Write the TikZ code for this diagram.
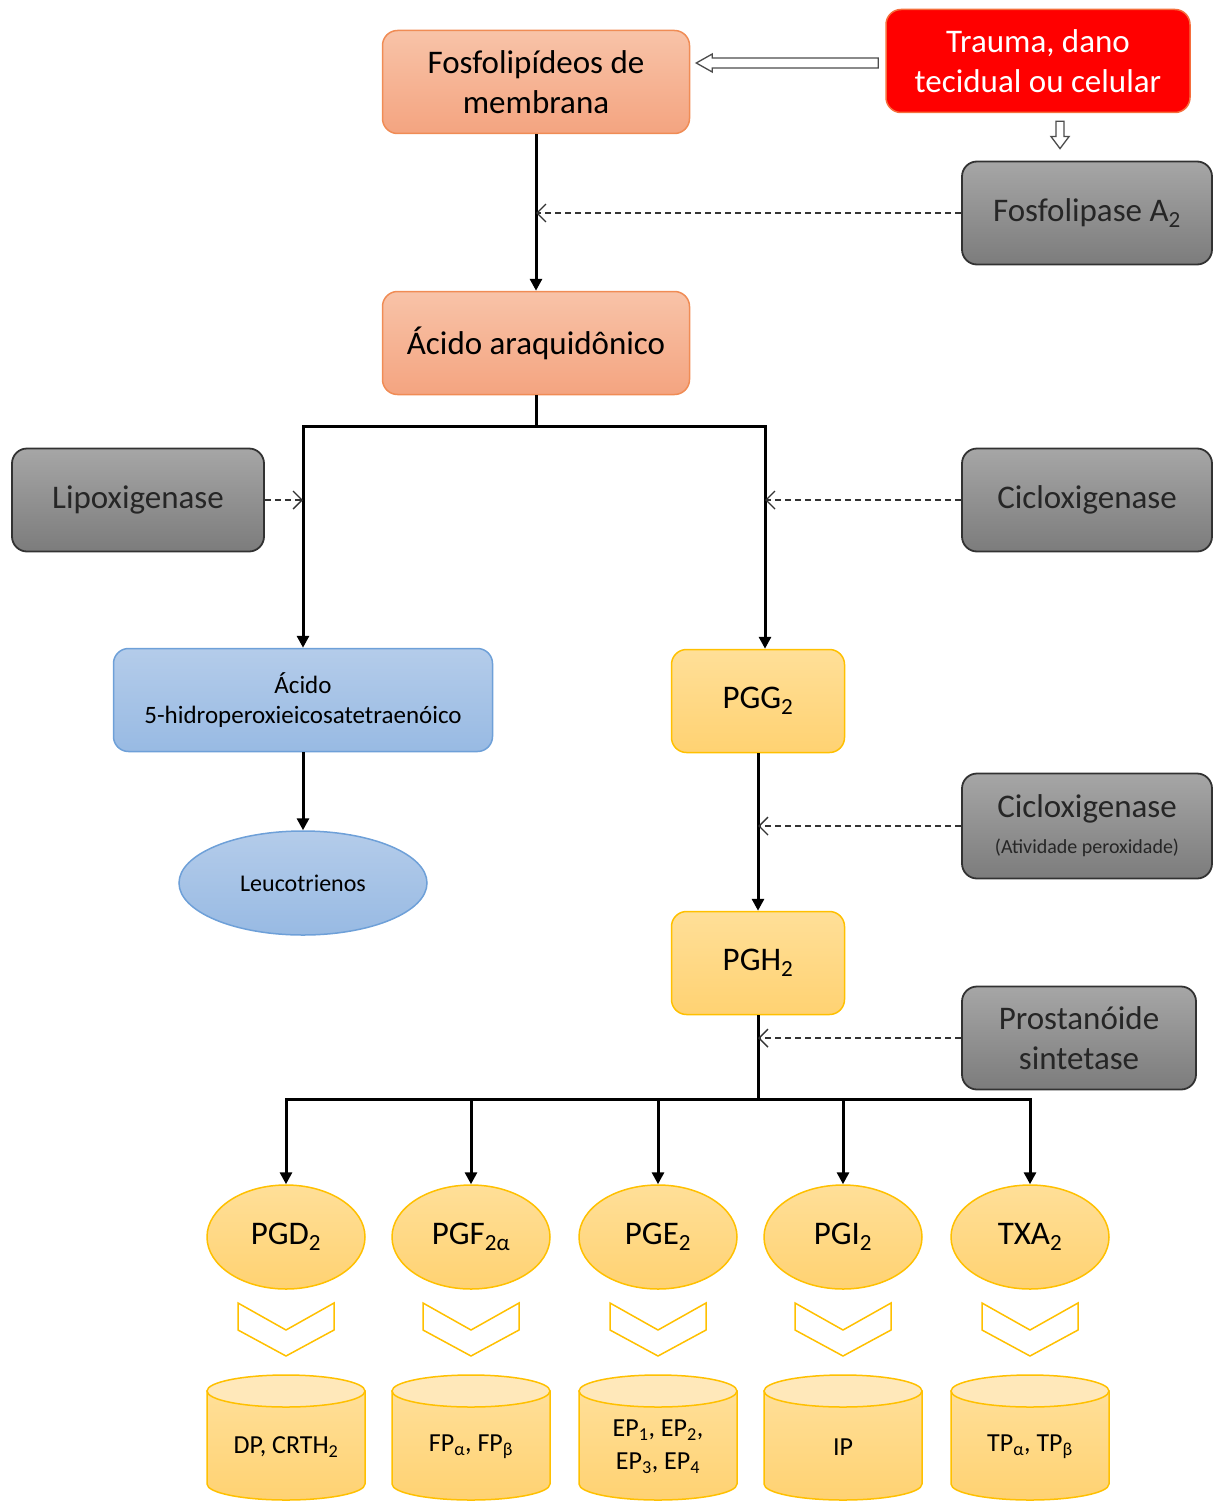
\documentclass[tikz,border=0pt]{standalone}
\usepackage{fontspec}
\setmainfont{Carlito}
\usetikzlibrary{arrows.meta,shapes.geometric,calc}

\definecolor{laranjaTopo}{RGB}{248,195,168}
\definecolor{laranjaBase}{RGB}{244,164,128}
\definecolor{laranjaBorda}{RGB}{240,140,85}
\definecolor{cinzaTopo}{RGB}{166,166,166}
\definecolor{cinzaBase}{RGB}{124,124,124}
\definecolor{cinzaBorda}{RGB}{50,50,50}
\definecolor{azulTopo}{RGB}{180,204,234}
\definecolor{azulBase}{RGB}{152,186,227}
\definecolor{azulBorda}{RGB}{110,160,216}
\definecolor{amareloTopo}{RGB}{255,223,152}
\definecolor{amareloBase}{RGB}{255,210,114}
\definecolor{amareloBorda}{RGB}{255,192,0}
\definecolor{amareloClaro}{RGB}{255,232,186}
\definecolor{vermelhoVivo}{RGB}{255,0,0}
\definecolor{vermelhoBorda}{RGB}{245,110,60}

\begin{document}
\begin{tikzpicture}[x=1pt,y=-1pt,
    caixa/.style={rounded corners=15, minimum width=307, minimum height=103,
      align=center, inner sep=4, font=\fontsize{33}{40}\selectfont},
    laranja/.style={caixa, draw=laranjaBorda, line width=1.5,
      top color=laranjaTopo, bottom color=laranjaBase},
    cinza/.style={caixa, minimum width=250, draw=cinzaBorda, line width=1.8,
      top color=cinzaTopo, bottom color=cinzaBase, text=black!85},
    azul/.style={caixa, draw=azulBorda, line width=1.5,
      top color=azulTopo, bottom color=azulBase,
      font=\fontsize{25}{30}\selectfont},
    amarelo/.style={caixa, minimum width=173, draw=amareloBorda, line width=1.5,
      top color=amareloTopo, bottom color=amareloBase},
    elipse/.style={ellipse, minimum width=158, minimum height=104, inner sep=0,
      draw=amareloBorda, line width=1.5, top color=amareloTopo,
      bottom color=amareloBase, font=\fontsize{33}{40}\selectfont},
    corpo/.style={draw=amareloBorda, line width=1.5, top color=amareloTopo,
      bottom color=amareloBase},
    tampa/.style={draw=amareloBorda, line width=1.5, fill=amareloClaro},
    rotulo/.style={align=center, font=\fontsize{26}{33}\selectfont},
    chevron/.style={draw=amareloBorda, line width=1.5, fill=white},
    seta/.style={line width=3, -{Triangle[length=12pt,width=12pt]}},
    linha/.style={line width=3},
    tracejada/.style={draw=black!80, line width=1.4, dash pattern=on 6pt off 4pt,
      -{Straight Barb[length=9pt,width=18pt]}},
    vazada/.style={draw=black!70, line width=1.3, fill=white, line join=miter}]

  \useasboundingbox (0,0) rectangle (1218,1501);

  % caixas principais
  \node[laranja] (fosfo) at (536,82) {Fosfolipídeos de\\membrana};
  \node[caixa, minimum width=304, draw=vermelhoBorda, line width=1.5,
    fill=vermelhoVivo, text=white] (trauma) at (1038,61) {Trauma, dano\\tecidual ou celular};
  \node[cinza] (pla2) at (1087,213) {Fosfolipase A\textsubscript{2}};
  \node[laranja] (aa) at (536,343) {Ácido araquidônico};
  \node[cinza, minimum width=252] (lox) at (138,500) {Lipoxigenase};
  \node[cinza] (cox) at (1087,500) {Cicloxigenase};
  \node[azul, minimum width=379] (hpete) at (303,700) {Ácido\\5-hidroperoxieicosatetraenóico};
  \node[ellipse, minimum width=248, minimum height=104, draw=azulBorda, line width=1.5,
    top color=azulTopo, bottom color=azulBase,
    font=\fontsize{24}{29}\selectfont] (lt) at (303,883) {Leucotrienos};
  \node[amarelo] (pgg) at (758,701) {PGG\textsubscript{2}};
  \node[cinza, minimum height=105] (cox2) at (1087,826)
    {Cicloxigenase\\[-4pt]{\fontsize{20}{24}\selectfont(Atividade peroxidade)}};
  \node[amarelo] (pgh) at (758,963) {PGH\textsubscript{2}};
  \node[cinza, minimum width=234] (pros) at (1079,1038) {Prostanóide\\sintetase};

  % setas vazadas
  \path (trauma.west) ++(-7,2) coordinate (a1);
  \path (a1 -| fosfo.east) ++(6,0) coordinate (a2);
  \draw[vazada] ($(a1)+(0,-5)$) -- ($(a2)+(16,-5)$) -- ($(a2)+(16,-9)$) -- (a2)
    -- ($(a2)+(16,9)$) -- ($(a2)+(16,5)$) -- ($(a1)+(0,5)$) -- cycle;
  \path (trauma.south) ++(22,8) coordinate (t1);
  \path (t1 |- pla2.north) ++(0,-12) coordinate (t2);
  \draw[vazada] ($(t1)+(-4,0)$) -- ($(t2)+(-4,-12)$) -- ($(t2)+(-9,-12)$) -- (t2)
    -- ($(t2)+(9,-12)$) -- ($(t2)+(4,-12)$) -- ($(t1)+(4,0)$) -- cycle;

  % vias
  \draw[seta] (fosfo) -- (aa);
  \draw[linha] (aa.south) -- ++(0,31) coordinate (ramo);
  \coordinate (cox-in) at ([xshift=7]pgg.north);
  \draw[seta] (ramo) -| (hpete.north);
  \draw[seta] (ramo) -| (cox-in);
  \draw[seta] (hpete) -- (lt);
  \draw[seta] (pgg) -- (pgh);
  \draw[linha] (pgh.south) -- ++(0,84) coordinate (ramo2);

  % enzimas
  \draw[tracejada] (pla2.west) -- (pla2.west -| fosfo.south);
  \draw[tracejada] (lox.east) -- (lox.east -| hpete.north);
  \draw[tracejada] (cox.west) -- (cox.west -| cox-in);
  \draw[tracejada] (cox2.west) -- (cox2.west -| pgg.south);
  \draw[tracejada] (pros.west) -- (pros.west -| pgh.south);

  % prostanoides e receptores
  \foreach \nome/\x/\texto/\recep in {
      pgd/286/{PGD\textsubscript{2}}/{DP, CRTH\textsubscript{2}},
      pgf/471/{PGF\textsubscript{2α}}/{FP\textsubscript{α}, FP\textsubscript{β}},
      pge/658/{PGE\textsubscript{2}}/{EP\textsubscript{1}, EP\textsubscript{2},\\EP\textsubscript{3}, EP\textsubscript{4}},
      pgi/843/{PGI\textsubscript{2}}/{IP},
      txa/1030/{TXA\textsubscript{2}}/{TP\textsubscript{α}, TP\textsubscript{β}}} {
    \node[elipse] (\nome) at (\x,1237) {\texto};
    \draw[seta] (ramo2) -| (\nome.north);
    \draw[chevron] ({\x-48},1303) -- (\x,1330) -- ({\x+48},1303) -- ({\x+48},1330)
      -- (\x,1356) -- ({\x-48},1330) -- cycle;
    \draw[corpo] ({\x-79},1391) -- ({\x-79},1484)
      arc[start angle=180, end angle=0, x radius=79, y radius=16]
      -- ({\x+79},1391) -- cycle;
    \draw[tampa] (\x,1391) ellipse [x radius=79, y radius=16];
    \node[rotulo] (r-\nome) at (\x,1447) {\recep};
  }
\end{tikzpicture}
\end{document}
